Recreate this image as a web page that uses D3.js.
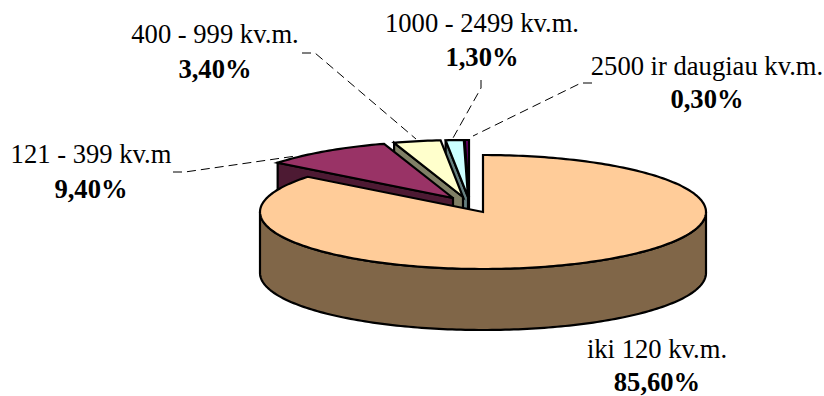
<!DOCTYPE html>
<html>
<head>
<meta charset="utf-8">
<script src="https://cdn.jsdelivr.net/npm/d3@7"></script>
<style>
html,body{margin:0;padding:0;background:#fff;}
svg{display:block;font-family:"Liberation Serif",serif;}
</style>
</head>
<body>
<svg id="chart" width="824" height="396"></svg>
<script>
// Shares of premises by floor area
const categories = ["iki 120 kv.m.", "121 - 399 kv.m", "400 - 999 kv.m.", "1000 - 2499 kv.m.", "2500 ir daugiau kv.m."];
const shares = [85.6, 9.4, 3.4, 1.3, 0.3];
const shareLabels = ["85,60%", "9,40%", "3,40%", "1,30%", "0,30%"];
const topColors = ["#FFCC99", "#993366", "#FFFFCC", "#CCFFFF", "#660066"];
const sideColors = ["#806648", "#4D1A33", "#808066", "#668080", "#330033"];

// Layout of the tilted disc
const rx = 223, ry = 57, depth = 61;
const centres = [[483, 212], [453, 198], [463, 197], [468, 197], [469, 197]];
const labelPos = [[657, 358, 390.5], [91, 163, 198], [215, 43, 78], [482, 32, 66], [707, 75, 108]];
const leaders = [
  null,
  [[173, 172], [185, 172], [296, 156]],
  [[302, 53], [315, 53], [416, 139]],
  [[481, 80], [481, 88], [453, 138]],
  [[592, 83], [581, 83], [473, 136]]
];

const svg = d3.select("#chart");
const slices = d3.pie().sort(null).value(d => d)(shares);

const px = (c, a) => c[0] + rx * Math.sin(a);
const py = (c, a) => c[1] - ry * Math.cos(a);
const line = d3.line();
const sweep = (a0, a1) => {
  const n = Math.max(2, Math.ceil(Math.abs(a1 - a0) / 0.02));
  return d3.range(n + 1).map(i => a0 + (a1 - a0) * i / n);
};

function drawSlice(i) {
  const s = slices[i], c = centres[i];
  const g = svg.append("g").attr("stroke", "#000").attr("stroke-width", 2.2).attr("stroke-linejoin", "miter");
  const a0 = s.startAngle, a1 = s.endAngle;

  if (i > 0) {
    // Cut face along the leading radial edge, turned towards the viewer
    const p0 = [px(c, a0), py(c, a0)];
    g.append("path")
      .attr("d", line([c, p0, [p0[0], p0[1] + depth], [c[0], c[1] + depth]]) + "Z")
      .attr("fill", sideColors[i]);
  } else {
    // Front rim of the large slice, from the right edge round to the left
    const top = sweep(Math.PI / 2, 3 * Math.PI / 2).map(a => [px(c, a), py(c, a)]);
    const bottom = top.map(p => [p[0], p[1] + depth]).reverse();
    g.append("path").attr("d", line(top.concat(bottom)) + "Z").attr("fill", sideColors[i]);
  }

  // Top face
  const rim = sweep(a0, a1).map(a => [px(c, a), py(c, a)]);
  g.append("path").attr("d", line([c].concat(rim)) + "Z").attr("fill", topColors[i]);
}

// Painted back to front: exploded wedges first, the large slice over them
[4, 3, 2, 1, 0].forEach(drawSlice);

// Dashed leader lines
leaders.forEach(l => {
  if (!l) return;
  svg.append("path").attr("d", line(l))
    .attr("fill", "none").attr("stroke", "#000").attr("stroke-width", 1).attr("stroke-dasharray", "9 5");
});

// Category and value labels
categories.forEach((name, i) => {
  const [x, y1, y2] = labelPos[i];
  svg.append("text").attr("x", x).attr("y", y1).attr("text-anchor", "middle")
    .attr("font-size", 26.6).attr("fill", "#000").text(name);
  svg.append("text").attr("x", x).attr("y", y2).attr("text-anchor", "middle")
    .attr("font-size", 26.6).attr("font-weight", "bold").attr("fill", "#000").text(shareLabels[i]);
});
</script>
</body>
</html>
